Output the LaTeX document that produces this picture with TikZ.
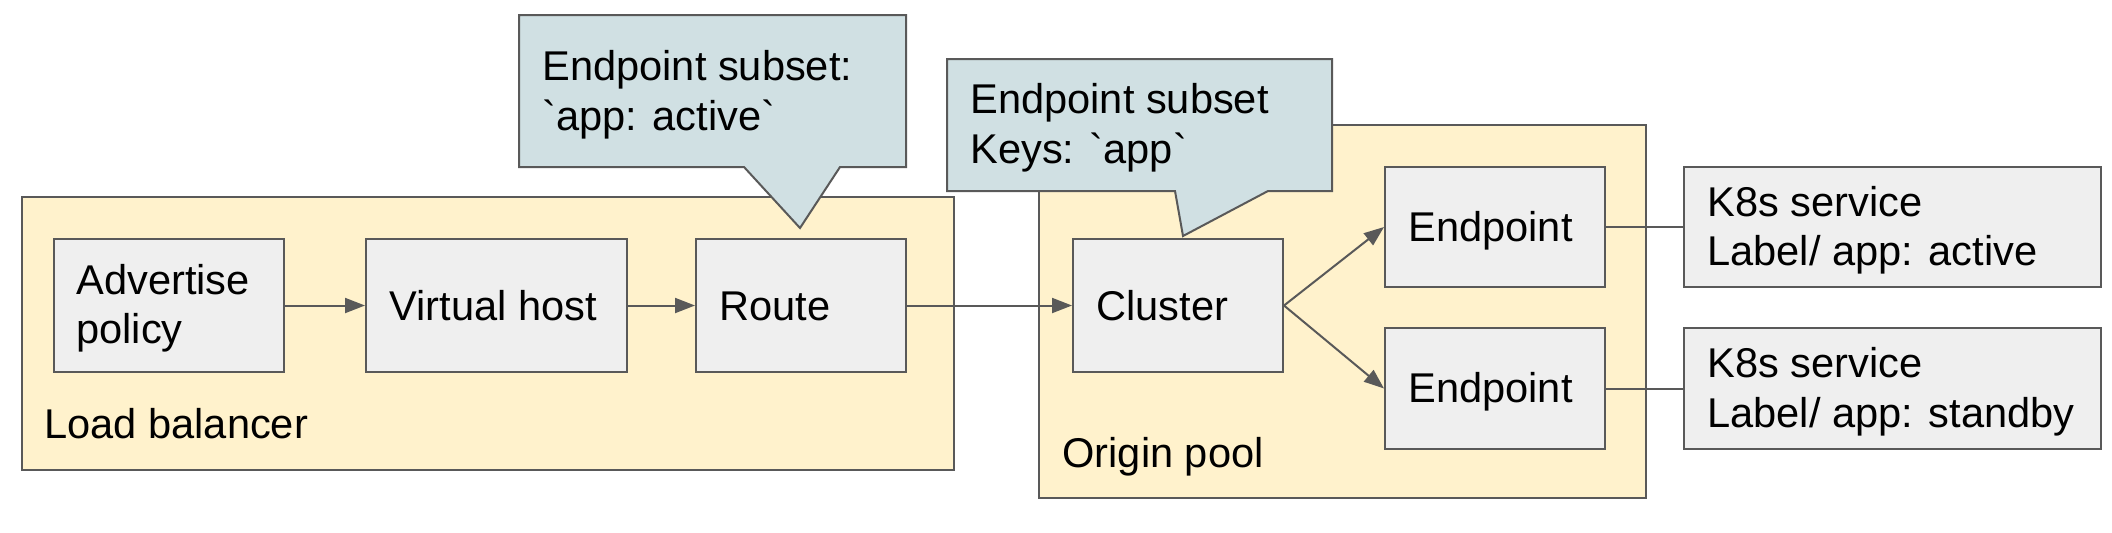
\documentclass[tikz,border=0pt]{standalone}
\usepackage{fontspec}
\setmainfont{Liberation Sans}
\usetikzlibrary{arrows.meta}
\definecolor{linec}{HTML}{595959}
\definecolor{creamc}{HTML}{FFF2CC}
\definecolor{boxc}{HTML}{EFEFEF}
\definecolor{callc}{HTML}{D0E0E3}
\begin{document}
\begin{tikzpicture}[x=0.5pt,y=-0.5pt,
  every node/.style={font=\fontsize{20.8}{24.6}\selectfont},
  container/.style={draw=linec, fill=creamc, line width=1pt, rectangle, inner sep=0pt},
  boxnode/.style={draw=linec, fill=boxc, line width=1pt, rectangle, inner sep=0pt},
  txt/.style={anchor=base west, align=left, inner sep=0pt, text=black},
  calloutshape/.style={draw=linec, fill=callc, line width=1pt, line join=miter},
  arr/.style={draw=linec, line width=1pt, -{Triangle[length=10pt,width=7.5pt]}},
  link/.style={draw=linec, line width=1pt}]
\useasboundingbox (0,0) rectangle (2112,532);
% containers
\node[container, minimum width=466pt, minimum height=136.5pt] (lb) at (488,333.5) {};
\node[container, minimum width=303.5pt, minimum height=186.5pt] (pool) at (1342.5,311.5) {};
\node[txt] (lbtxt) at (44,438) {Load balancer};
\node[txt] (pooltxt) at (1062,467) {Origin pool};
% callouts
\draw[calloutshape] (519,15) -- (906,15) -- (906,167) -- (840,167) -- (800,228) -- (744,167) -- (519,167) -- cycle;
\node[txt] (c1) at (542,130) {Endpoint subset:\\\textasciigrave app: active\textasciigrave};
\draw[calloutshape] (947,59) -- (1332,59) -- (1332,191) -- (1268,191) -- (1183,236) -- (1175,191) -- (947,191) -- cycle;
\node[txt] (c2) at (970,163) {Endpoint subset\\Keys: \textasciigrave app\textasciigrave};
% boxes
\node[boxnode, minimum width=114.75pt, minimum height=66.5pt] (adv) at (168.75,305.5) {};
\node[boxnode, minimum width=130.5pt, minimum height=66.5pt] (vh) at (496.5,305.5) {};
\node[boxnode, minimum width=105pt, minimum height=66.5pt] (route) at (801,305.5) {};
\node[boxnode, minimum width=105pt, minimum height=66.5pt] (cluster) at (1178,305.5) {};
\node[boxnode, minimum width=110pt, minimum height=60pt] (e1) at (1495,227) {};
\node[boxnode, minimum width=110pt, minimum height=60.5pt] (e2) at (1495,388.5) {};
\node[boxnode, minimum width=208.5pt, minimum height=60pt] (k1) at (1892.5,227) {};
\node[boxnode, minimum width=208.5pt, minimum height=60.5pt] (k2) at (1892.5,388.5) {};
% texts
\node[txt] (advtxt) at (76,343.5) {Advertise\\policy};
\node[txt] (vhtxt) at (389,320) {Virtual host};
\node[txt] (routetxt) at (719,320) {Route};
\node[txt] (clustertxt) at (1096,320) {Cluster};
\node[txt] (e1txt) at (1408,241) {Endpoint};
\node[txt] (e2txt) at (1408,402.5) {Endpoint};
\node[txt] (k1txt) at (1707,265.5) {K8s service\\Label/ app: active};
\node[txt] (k2txt) at (1707,427) {K8s service\\Label/ app: standby};
% connectors
\draw[arr] (adv) -- (vh);
\draw[arr] (vh) -- (route);
\draw[arr] (route) -- (cluster);
\draw[arr] (cluster.east) -- (e1.west);
\draw[arr] (cluster.east) -- (e2.west);
\draw[link] (e1) -- (k1);
\draw[link] (e2) -- (k2);
\end{tikzpicture}
\end{document}
